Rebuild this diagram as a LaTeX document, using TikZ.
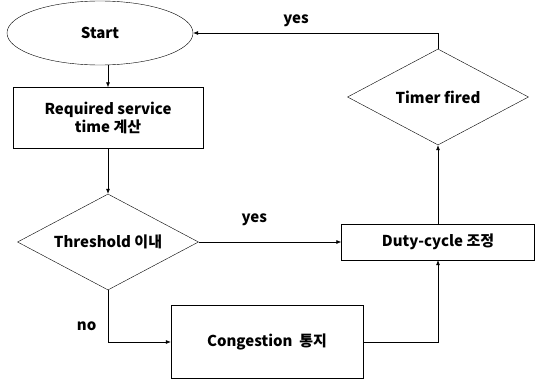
\documentclass[tikz,border=0pt]{standalone}
\usepackage{fontspec}
\setmainfont{Noto Sans CJK KR}
\usetikzlibrary{shapes.geometric,arrows.meta}

\begin{document}
\begin{tikzpicture}[x=1pt,y=-1pt,
    font=\fontsize{15}{18}\selectfont\bfseries,
    boite/.style={draw,rectangle,inner sep=0pt,align=center},
    losange/.style={draw,diamond,aspect=2,inner sep=0pt,minimum width=181,minimum height=96},
    fl/.style={-{Latex[length=5pt,width=4pt]},line width=0.6pt}]
    %\draw[help lines] (0,0) grid[step=20] (540,380);
    \useasboundingbox (0,0) rectangle (540,380);
    \node[draw,ellipse,inner sep=0pt,minimum width=186,minimum height=64] (start) at (100,33) {Start};
    \node[boite,minimum width=190,minimum height=61] (calcul) at (108,118) {Required service\\time 계산};
    \node[losange] (seuil) at (108,242) {Threshold 이내};
    \node[boite,minimum width=193,minimum height=36] (duty) at (438,242) {Duty-cycle 조정};
    \node[boite,minimum width=192,minimum height=73] (cong) at (267,342) {Congestion\ \ 통지};
    \node[losange] (timer) at (438,97) {Timer fired};
    % liaisons
    \draw[fl] (start.south -| calcul.north) -- (calcul.north);
    \draw[fl] (calcul) -- (seuil);
    \draw[fl] (seuil) -- node[pos=.39,above=13pt]{yes} (duty);
    \draw[fl] (seuil.south) |- node[pos=.35,left=8pt]{no} (cong.west);
    \draw[fl] (cong.east) -| (duty.south);
    \draw[fl] (duty) -- (timer);
    \draw[fl] (timer.north) |- node[pos=.79,above=3pt]{yes} (start.east);
\end{tikzpicture}
\end{document}
